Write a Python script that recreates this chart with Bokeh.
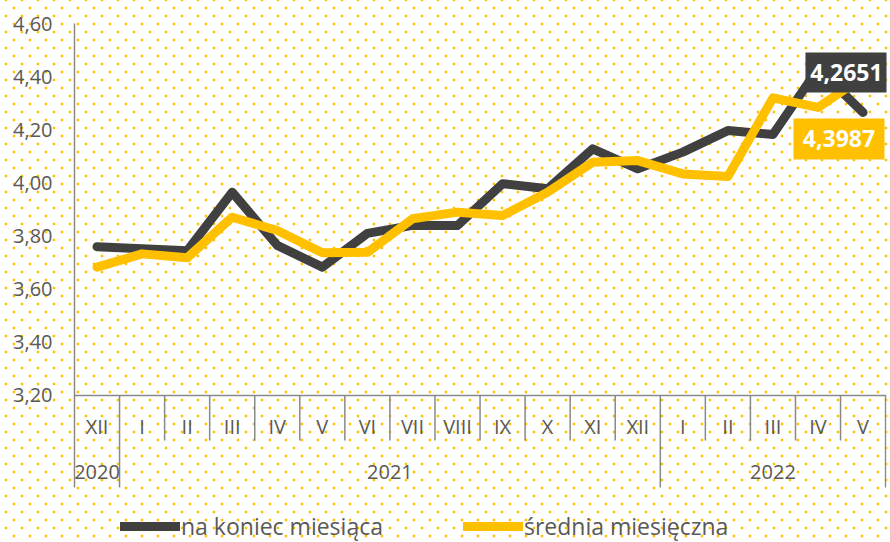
from bokeh.plotting import figure
from bokeh.models import (Range1d, FixedTicker, Span, Legend, LegendItem)
from bokeh.core.properties import value
from bokeh.embed import file_html
from bokeh.resources import INLINE

# ---- data ----
months = ["XII", "I", "II", "III", "IV", "V", "VI", "VII", "VIII", "IX", "X", "XI",
          "XII", "I", "II", "III", "IV", "V"]
years = ["2020", "2021", "2022"]
year_counts = [1, 12, 5]
end_of_month = [3.760, 3.752, 3.745, 3.965, 3.765, 3.683, 3.810, 3.840, 3.840, 3.997,
                3.978, 4.128, 4.053, 4.116, 4.197, 4.182, 4.430, 4.2651]
monthly_avg = [3.683, 3.733, 3.718, 3.871, 3.821, 3.737, 3.739, 3.865, 3.890, 3.877,
               3.965, 4.078, 4.084, 4.034, 4.024, 4.320, 4.284, 4.3987]
y_ticks = [3.20, 3.40, 3.60, 3.80, 4.00, 4.20, 4.40, 4.60]
series_names = ["na koniec miesiąca", "średnia miesięczna"]

# ---- styling ----
DARK = "#404040"
YELLOW = "#FFC000"
GRAY = "#898989"
TEXT = "#595959"
FONT = "Open Sans"
PX_PER_UNIT = 265.71
FRAME_W = 812

n = len(months)
x_end = n + 0.02
PX_PER_CAT = FRAME_W / x_end
centers = [i + 0.5 for i in range(n)]
y_frame_min = 4.60 - 519 / PX_PER_UNIT   # frame reaches page bottom
y_axis_min = 4.60 - 464 / PX_PER_UNIT    # axis / year separators end here

p = figure(width=890, height=542, output_backend="svg", toolbar_location=None,
           x_range=Range1d(0, x_end), y_range=Range1d(y_frame_min, 4.60),
           x_axis_location=None, min_border_left=74, min_border_top=23,
           min_border_right=4, min_border_bottom=0)
p.border_fill_color = None
p.background_fill_color = None
p.outline_line_color = None
p.grid.visible = False
p.styles = {
    "background-image": ("radial-gradient(circle, #FFC000 0.9px, rgba(255,192,0,0) 1.8px), "
                         "radial-gradient(circle, #FFC000 0.9px, rgba(255,192,0,0) 1.8px)"),
    "background-size": "16px 16px, 16px 16px",
    "background-position": "-2px -8px, 6px 0px",
}

ax = p.yaxis[0]
ax.ticker = FixedTicker(ticks=y_ticks)
ax.bounds = (y_axis_min, 4.60)
ax.major_label_overrides = {t: f"{t:.2f}".replace(".", ",") for t in y_ticks}
ax.major_tick_out = 0
ax.major_tick_in = 0
ax.minor_tick_out = 0
ax.minor_tick_in = 0
ax.axis_line_color = GRAY
ax.axis_line_width = 1.5
ax.major_label_standoff = 22
ax.major_label_text_font = FONT
ax.major_label_text_font_size = "20px"
ax.major_label_text_color = TEXT

# horizontal category axis line
p.add_layout(Span(location=y_ticks[0], dimension="width", line_color=GRAY, line_width=1.5))

# separators
bounds = [0]
for c in year_counts:
    bounds.append(bounds[-1] + c)
month_sep = [b for b in range(1, n) if b not in bounds]
year_sep = [b for b in bounds if b > 0]
y_month_bottom = 4.60 - 417 / PX_PER_UNIT
p.segment(x0=month_sep, x1=month_sep, y0=[y_ticks[0]] * len(month_sep),
          y1=[y_month_bottom] * len(month_sep), line_color=GRAY, line_width=1.5)
p.segment(x0=year_sep, x1=year_sep, y0=[y_ticks[0]] * len(year_sep),
          y1=[y_axis_min] * len(year_sep), line_color=GRAY, line_width=1.5)

# category labels
y_month_lbl = 4.60 - 403 / PX_PER_UNIT
y_year_lbl = 4.60 - 448 / PX_PER_UNIT
p.text(x=centers, y=[y_month_lbl] * n, text=months, text_align="center",
       text_baseline="middle", text_font=value(FONT), text_font_size="20px",
       text_color=TEXT)
year_centers = [(bounds[i] + bounds[i + 1]) / 2 for i in range(len(years))]
p.text(x=year_centers, y=[y_year_lbl] * len(years), text=years, text_align="center",
       text_baseline="middle", text_font=value(FONT), text_font_size="20px",
       text_color=TEXT)

# lines
r_dark = p.line(centers, end_of_month, line_color=DARK, line_width=9,
                line_join="round", line_cap="round")
r_yel = p.line(centers, monthly_avg, line_color=YELLOW, line_width=9,
               line_join="round", line_cap="round")

# data labels (box + text), offset in pixels from the last data point
def value_label(xv, yv, dx_px, dy_px, w_px, h_px, fill):
    xc = xv + dx_px / PX_PER_CAT
    yc = yv + dy_px / PX_PER_UNIT
    p.rect(x=[xc], y=[yc], width=w_px, height=h_px, width_units="screen",
           height_units="screen", fill_color=fill, line_color=None)
    p.text(x=[xc], y=[yc], text=[f"{yv:.4f}".replace(".", ",")], text_align="center",
           text_baseline="middle", text_font=value(FONT), text_font_size="23px",
           text_font_style="bold", text_color="white")

value_label(centers[-1], end_of_month[-1], -16.6, 40, 82, 40, DARK)
value_label(centers[-1], monthly_avg[-1], -24.1, -62, 91, 41, YELLOW)

legend = Legend(items=[LegendItem(label=series_names[0], renderers=[r_dark]),
                       LegendItem(label=series_names[1], renderers=[r_yel])],
                orientation="horizontal", location=(46, 0), glyph_width=60,
                glyph_height=20, label_standoff=1, spacing=80, padding=0, margin=0,
                background_fill_alpha=0, border_line_alpha=0,
                label_text_font=FONT, label_text_font_size="23px",
                label_text_color=TEXT)
p.add_layout(legend)

open("out.html", "w").write(file_html(p, INLINE))
